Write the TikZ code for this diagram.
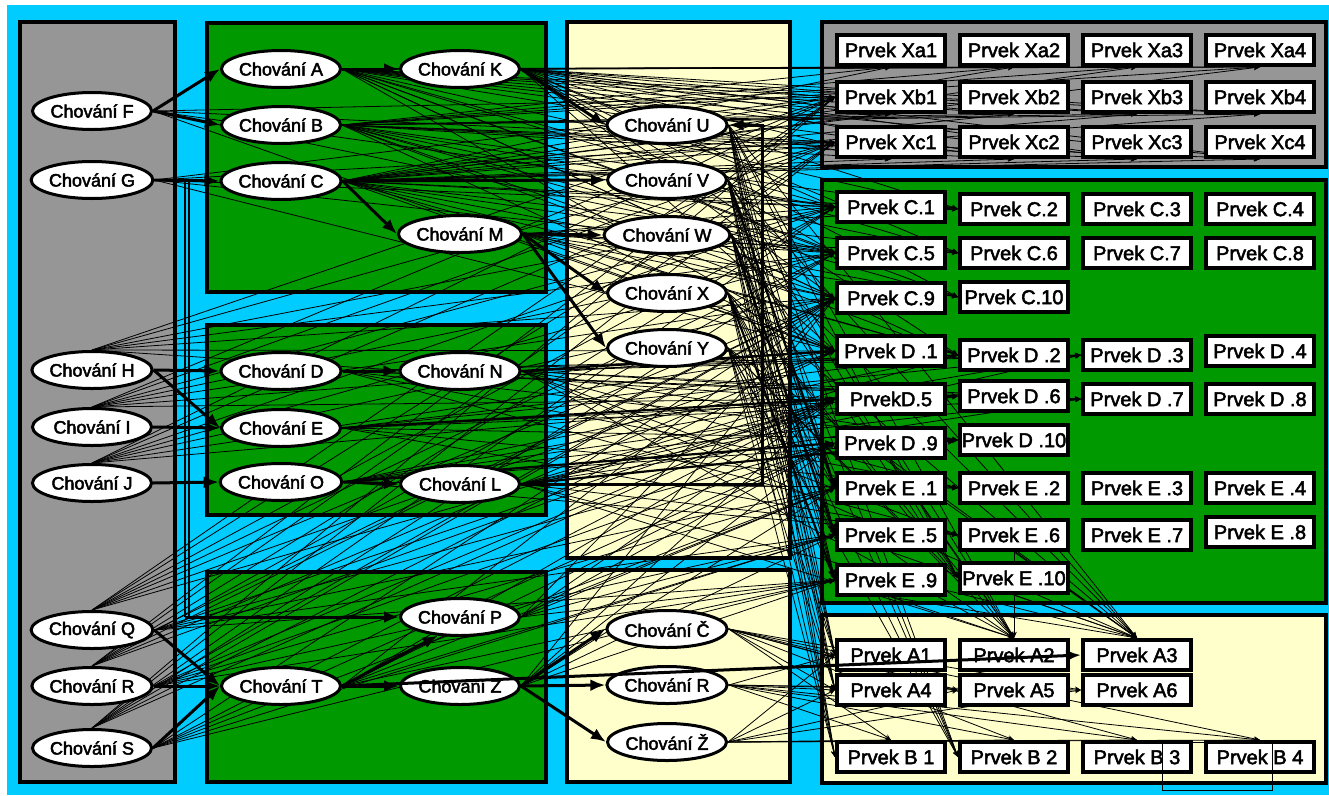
\documentclass[tikz,border=0pt]{standalone}
\usepackage{fontspec}
\setmainfont{Liberation Sans}[FakeBold=2.5]
\usetikzlibrary{shapes.geometric,arrows.meta}
\definecolor{sky}{RGB}{0,204,255}
\definecolor{leaf}{RGB}{0,153,0}
\definecolor{slate}{RGB}{150,150,150}
\definecolor{cream}{RGB}{255,255,204}
\pgfdeclarelayer{panels}
\pgfdeclarelayer{wires}
\pgfdeclarelayer{over}
\pgfsetlayers{panels,wires,main,over}
\tikzset{
  beh/.style={ellipse,draw,line width=3pt,fill=white,minimum width=119pt,minimum height=37pt,inner sep=0pt,font=\fontsize{18}{18}\selectfont},
  elem/.style={rectangle,draw,line width=4pt,fill=white,minimum width=108pt,minimum height=30pt,inner sep=1pt,font=\fontsize{20}{20}\selectfont},
  panel/.style={draw,line width=4pt},
  wire/.style={line width=0.8pt,-{Stealth[length=6pt,width=5pt]}},
  link/.style={line width=3pt,-{Latex[length=15pt,width=12pt]}},
  band/.style={line width=2.2pt,-{Latex[length=10pt,width=8pt]}},
}
\begin{document}
\begin{tikzpicture}[x=1pt,y=-1pt]
\useasboundingbox (0,0) rectangle (1329,795);

% background and group panels
\begin{pgfonlayer}{panels}
  \fill[white] (0,0) rectangle (1329,795);
  \fill[sky] (7,5) rectangle (1329,795);
  \draw[panel,fill=slate] (20,22) rectangle (175,782);
  \draw[panel,fill=leaf] (207,23) rectangle (546,292);
  \draw[panel,fill=leaf] (207,325) rectangle (546,515);
  \draw[panel,fill=leaf] (207,572) rectangle (546,782);
  \draw[panel,fill=cream] (567,22) rectangle (790,558);
  \draw[panel,fill=cream] (567,570) rectangle (790,782);
  \draw[panel,fill=slate] (822,22) rectangle (1326,167);
  \draw[panel,fill=leaf] (822,180) rectangle (1326,603);
  \draw[panel,fill=cream] (822,615) rectangle (1326,783);
\end{pgfonlayer}

% behaviours
\foreach \n/\x/\y/\t in {
  F/92/111/F, G/92/180/G, H/92/370/H, I/92/427/I, J/92/483/J,
  Q/92/630/Q, R/92/686/R, S/92/748/S,
  A/281/69/A, B/281/125/B, C/281/181/C, K/460/69/K, M/460/234/M,
  D/281/371/D, E/281/428/E, O/281/482/O, N/460/371/N, L/460/484/L,
  P/460/617/P, T/281/686/T, Z/460/686/Z,
  U/667/125/U, V/667/180/V, W/667/235/W, X/667/293/X, Y/667/348/Y,
  Cc/667/629/Č, Rr/667/685/R, Zz/667/742/Ž}
  \node[beh] (\n) at (\x,\y) {Chování \t};

% elements
\foreach \n/\x/\y/\t in {
  Xa1/891/50/Prvek Xa1, Xa2/1014/50/Prvek Xa2, Xa3/1137/50/Prvek Xa3, Xa4/1260/50/Prvek Xa4,
  Xb1/891/97/Prvek Xb1, Xb2/1014/97/Prvek Xb2, Xb3/1137/97/Prvek Xb3, Xb4/1260/97/Prvek Xb4,
  Xc1/891/142/Prvek Xc1, Xc2/1014/142/Prvek Xc2, Xc3/1137/142/Prvek Xc3, Xc4/1260/142/Prvek Xc4,
  C1/891/207/Prvek C.1, C2/1014/209/Prvek C.2, C3/1137/209/Prvek C.3, C4/1260/209/Prvek C.4,
  C5/891/253/Prvek C.5, C6/1014/253/Prvek C.6, C7/1137/253/Prvek C.7, C8/1260/253/Prvek C.8,
  C9/891/298/Prvek C.9, C10/1014/297/Prvek C.10,
  D1/891/351/Prvek D .1, D2/1014/355/Prvek D .2, D3/1137/355/Prvek D .3, D4/1260/351/Prvek D .4,
  D5/891/399/PrvekD.5, D6/1014/396/Prvek D .6, D7/1137/399/Prvek D .7, D8/1260/399/Prvek D .8,
  D9/891/443/Prvek D .9, D10/1014/440/Prvek D .10,
  E1/891/488/Prvek E .1, E2/1014/488/Prvek E .2, E3/1137/488/Prvek E .3, E4/1260/488/Prvek E .4,
  E5/891/535/Prvek E .5, E6/1014/535/Prvek E .6, E7/1137/535/Prvek E .7, E8/1260/532/Prvek E .8,
  E9/891/580/Prvek E .9, E10/1014/578/Prvek E .10,
  A1/891/655/Prvek A1, A2/1014/655/Prvek A2, A3/1137/655/Prvek A3,
  A4/891/690/Prvek A4, A5/1014/690/Prvek A5, A6/1137/690/Prvek A6,
  B1/891/757/Prvek B 1, B2/1014/757/Prvek B 2, B3/1137/757/Prvek B 3, B4/1260/757/Prvek B 4}
  \node[elem] (\n) at (\x,\y) {\t};

% routing corners
\coordinate (gp1) at (185,180);
\coordinate (gp2) at (185,617);
\coordinate (gq1) at (189,180);
\coordinate (gq2) at (189,617);
\coordinate (lu1) at (762,484);
\coordinate (lu2) at (762,125);

\begin{pgfonlayer}{wires}
  % fine relations
  \foreach \s in {A,B,C,K}{\foreach \t in {Xa1,Xa2,Xa3,Xa4,Xb1,Xb2,Xb3,Xb4,Xc1,Xc2,Xc3,Xc4}{\draw[wire] (\s.east) -- (\t.south);}}
  \foreach \s in {A,B,C,K,M}{\foreach \t in {C1,C2,C5,C6,C9,C10,D1,D2}{\draw[wire] (\s.east) -- (\t.west);}}
  \foreach \s in {H,I,J,Q,R,S}{\foreach \t in {Xb1,Xc1,C1,C5,C9,D1,D5}{\draw[wire] (\s.north) -- (\t.west);}}
  \foreach \s in {D,E,N,O,L}{\foreach \t in {D2,D3,D6,D7,D10,E2,E6}{\draw[wire] (\s.east) -- (\t.west);}}
  \foreach \s in {U,V,W,X,Y}{\foreach \t in {E1,E5,E9,E10,A1,A4,B1,B2}{\draw[wire] (\s.east) -- (\t.west);}}
  \foreach \s in {U,V,W,X,Y,N,L}{\foreach \t in {A2,A3}{\draw[wire] (\s.east) -- (\t.north);}}
  \foreach \s in {Q,R,S,T,P,Z}{\foreach \t in {C9,D5,D9,E1,E5,E9}{\draw[wire] (\s.east) -- (\t.west);}}
  \foreach \s in {Cc,Rr,Zz}{\foreach \t in {A1,A4,A5,A6}{\draw[wire] (\s.east) -- (\t.west);}}
  \foreach \s in {Cc,Rr,Zz}{\foreach \t in {B1,B2,B3,B4}{\draw[wire] (\s.east) -- (\t.north);}}
  \foreach \s in {F,G}{\foreach \t in {Xb1,Xc1,C1,C5,D1}{\draw[wire] (\s.east) -- (\t.west);}}
  \foreach \s in {E5,E6,E9,E10,D9}{\foreach \t in {A2,A3}{\draw[wire] (\s.south) -- (\t.north);}}

  % heavier relations
  \draw[band] (N.east) -- (D1.west);
  \draw[band] (E.east) -- (D5.west);
  \draw[band] (O.east) -- (D9.west);
  \draw[band] (L.east) -- (D10.west);
  \draw[band] (V.east) -- (E1.west);
  \draw[band] (W.east) -- (E5.west);
  \draw[band] (X.east) -- (E9.west);

  % main flow
  \draw[link] (F.east) -- (A.west);
  \draw[link] (F.east) -- (B.west);
  \draw[link] (G.east) -- (C.west);
  \draw[link] (A.east) -- (K.west);
  \draw[link] (C.east) -- (M.west);
  \draw[link] (H.east) -- (D.west);
  \draw[link] (H.east) -- (E.west);
  \draw[link] (I.east) -- (E.west);
  \draw[link] (J.east) -- (O.west);
  \draw[link] (D.east) -- (N.west);
  \draw[link] (O.east) -- (L.west);
  \draw[link] (K.east) -- (U.west);
  \draw[link] (C.east) -- (V.west);
  \draw[link] (M.east) -- (W.west);
  \draw[link] (M.east) -- (X.west);
  \draw[link] (M.east) -- (Y.west);
  \draw[line width=1.2pt] (G.east) -- (gp1) -- (gp2);
  \draw[line width=1.2pt] (G.east) -- (gq1) -- (gq2);
  \draw[link] (gp2) -- (P.west);
  \draw[link] (L.east) -- (lu1) -- (lu2) -- (U.east);
  \draw[link] (Q.east) -- (T.west);
  \draw[link] (R.east) -- (T.west);
  \draw[link] (S.east) -- (T.west);
  \draw[link] (T.east) -- (P.220);
  \draw[link] (T.east) -- (Z.west);
  \draw[link] (Z.east) -- (Cc.west);
  \draw[link] (Z.east) -- (Rr.west);
  \draw[link] (Z.east) -- (Zz.west);
\end{pgfonlayer}

\begin{pgfonlayer}{over}
  \draw[link] (T.east) -- (A3.west);
  \draw[line width=0.8pt] (1162,742) rectangle (1272,790);
\end{pgfonlayer}
\end{tikzpicture}
\end{document}
